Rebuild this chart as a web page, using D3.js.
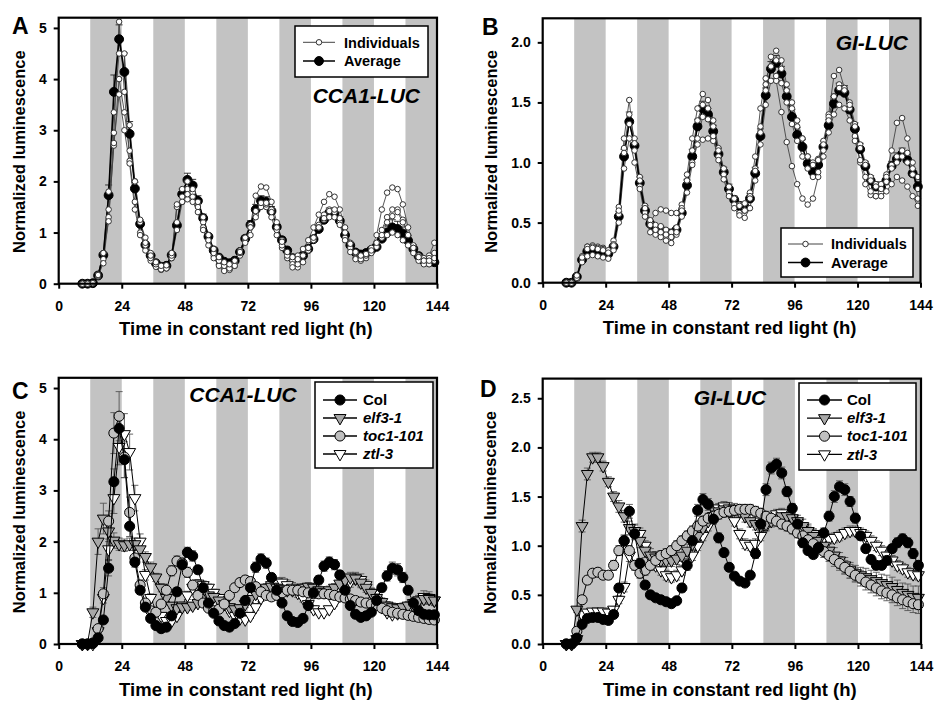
<!DOCTYPE html>
<html>
<head>
<meta charset="utf-8">
<script src="https://cdn.jsdelivr.net/npm/d3@7"></script>
<style>
body { margin: 0; background: #fff; }
svg text { font-family: "Liberation Sans", Arial, Helvetica, sans-serif; }
</style>
</head>
<body>
<svg id="fig" width="935" height="703"></svg>
<script>
// sampling times (h in constant red light)
const hours = [9, 11, 13, 15, 17, 19, 21, 23, 25, 27,
    29, 31, 33, 35, 37, 39, 41, 43, 45, 47,
    49, 51, 53, 55, 57, 59, 61, 63, 65, 67,
    69, 71, 73, 75, 77, 79, 81, 83, 85, 87,
    89, 91, 93, 95, 97, 99, 101, 103, 105, 107,
    109, 111, 113, 115, 117, 119, 121, 123, 125, 127,
    129, 131, 133, 135, 137, 139, 141, 143]
const xTicks = [0, 24, 48, 72, 96, 120, 144]
const darkStarts = [12, 36, 60, 84, 108, 132]   // subjective night bands (12 h wide)

// ---- Panel A : CCA1-LUC, individuals + average
const aAverage = [0, 0, 0.01, 0.16, 0.56, 1.73, 3.75, 4.78, 4.14, 2.93,
    1.86, 1.17, 0.76, 0.55, 0.40, 0.33, 0.35, 0.56, 1.14, 1.75,
    2.03, 1.92, 1.62, 1.28, 0.92, 0.65, 0.51, 0.43, 0.40, 0.45,
    0.62, 0.88, 1.15, 1.45, 1.62, 1.60, 1.42, 1.11, 0.85, 0.65,
    0.50, 0.50, 0.55, 0.68, 0.87, 1.07, 1.25, 1.39, 1.37, 1.23,
    0.95, 0.75, 0.61, 0.57, 0.60, 0.66, 0.72, 0.88, 1.00, 1.10,
    1.07, 0.98, 0.84, 0.68, 0.54, 0.45, 0.42, 0.42]
const aAverageErr = [0, 0, 0, 0.02, 0.05, 0.2, 0.33, 0.28, 0.37, 0.24,
    0.12, 0.08, 0.05, 0.04, 0.03, 0.03, 0.03, 0.05, 0.08, 0.1,
    0.13, 0.12, 0.1, 0.08, 0.06, 0.05, 0.04, 0.04, 0.04, 0.04,
    0.05, 0.06, 0.08, 0.1, 0.1, 0.1, 0.09, 0.07, 0.06, 0.05,
    0.05, 0.05, 0.05, 0.06, 0.07, 0.08, 0.09, 0.09, 0.09, 0.08,
    0.07, 0.06, 0.05, 0.05, 0.05, 0.06, 0.08, 0.1, 0.13, 0.15,
    0.15, 0.13, 0.1, 0.08, 0.06, 0.05, 0.05, 0.05]
const aInd1 = [0, 0, 0.01, 0.14, 0.48, 1.45, 2.95, 5.12, 3.75, 2.4,
    1.6, 1.0, 0.65, 0.45, 0.33, 0.27, 0.3, 0.5, 1.05, 1.6,
    1.85, 1.78, 1.55, 1.2, 0.85, 0.55, 0.38, 0.3, 0.28, 0.35,
    0.55, 0.85, 1.15, 1.72, 1.9, 1.88, 1.6, 1.2, 0.85, 0.6,
    0.45, 0.55, 0.68, 0.85, 1.1, 1.35, 1.6, 1.75, 1.7, 1.45,
    1.1, 0.8, 0.6, 0.5, 0.55, 0.7, 0.95, 1.45, 1.78, 1.88,
    1.85, 1.55, 1.1, 0.75, 0.55, 0.5, 0.55, 0.8]
const aInd2 = [0, 0, 0.01, 0.16, 0.4, 1.3, 2.7, 4.0, 3.35, 2.6,
    2.0, 1.2, 0.9, 0.6, 0.4, 0.3, 0.32, 0.5, 1.5, 1.7,
    1.65, 1.7, 1.5, 1.1, 0.75, 0.5, 0.35, 0.25, 0.27, 0.4,
    0.65, 0.9, 1.1, 1.35, 1.55, 1.5, 1.3, 0.95, 0.7, 0.5,
    0.38, 0.32, 0.42, 0.65, 0.9, 1.15, 1.35, 1.45, 1.4, 1.2,
    0.9, 0.7, 0.5, 0.45, 0.5, 0.62, 0.8, 1.05, 1.3, 1.45,
    1.45, 1.25, 0.95, 0.7, 0.52, 0.45, 0.5, 0.6]
const aInd3 = [0, 0, 0.01, 0.18, 0.6, 1.22, 2.75, 3.7, 3.0, 2.35,
    1.45, 0.95, 0.75, 0.5, 0.38, 0.28, 0.3, 0.55, 1.55, 1.6,
    1.75, 1.6, 1.4, 1.05, 0.85, 0.6, 0.45, 0.35, 0.3, 0.35,
    0.6, 0.8, 0.95, 1.3, 1.5, 1.55, 1.45, 1.05, 0.75, 0.55,
    0.32, 0.38, 0.55, 0.7, 0.85, 1.1, 1.25, 1.3, 1.3, 1.15,
    0.85, 0.62, 0.48, 0.48, 0.55, 0.6, 0.72, 0.9, 0.95, 1.0,
    0.95, 0.85, 0.75, 0.6, 0.45, 0.38, 0.38, 0.45]
const aInd4 = [0, 0, 0.01, 0.17, 0.6, 1.8, 3.35, 4.5, 4.5, 3.1,
    2.0, 1.25, 0.8, 0.55, 0.42, 0.35, 0.36, 0.6, 1.2, 1.85,
    2.0, 1.85, 1.6, 1.3, 0.95, 0.68, 0.52, 0.42, 0.38, 0.45,
    0.62, 0.9, 1.1, 1.42, 1.58, 1.58, 1.4, 1.1, 0.82, 0.62,
    0.52, 0.48, 0.55, 0.7, 0.9, 1.1, 1.28, 1.42, 1.45, 1.28,
    1.0, 0.78, 0.62, 0.55, 0.58, 0.65, 0.8, 0.95, 1.2, 1.32,
    1.4, 1.2, 0.95, 0.7, 0.52, 0.45, 0.45, 0.5]

// ---- Panel B : GI-LUC, individuals + average
const bAverage = [0, 0, 0.05, 0.19, 0.26, 0.27, 0.27, 0.25, 0.24, 0.30,
    0.55, 1.05, 1.34, 1.14, 0.83, 0.60, 0.49, 0.45, 0.44, 0.42,
    0.41, 0.44, 0.58, 0.81, 1.05, 1.30, 1.45, 1.40, 1.26, 1.07,
    0.92, 0.78, 0.69, 0.64, 0.63, 0.70, 0.91, 1.22, 1.56, 1.78,
    1.83, 1.74, 1.55, 1.38, 1.23, 1.13, 0.99, 0.92, 0.98, 1.13,
    1.31, 1.49, 1.60, 1.58, 1.44, 1.28, 1.11, 0.97, 0.85, 0.80,
    0.79, 0.85, 0.97, 1.03, 1.07, 1.02, 0.91, 0.80]
const bAverageErr = [0, 0, 0.01, 0.02, 0.02, 0.02, 0.02, 0.02, 0.02, 0.02,
    0.04, 0.06, 0.08, 0.06, 0.05, 0.04, 0.03, 0.03, 0.03, 0.03,
    0.03, 0.03, 0.04, 0.05, 0.06, 0.06, 0.06, 0.05, 0.05, 0.05,
    0.04, 0.04, 0.03, 0.03, 0.03, 0.04, 0.05, 0.06, 0.06, 0.06,
    0.06, 0.06, 0.06, 0.06, 0.06, 0.06, 0.06, 0.05, 0.05, 0.05,
    0.05, 0.06, 0.06, 0.06, 0.05, 0.05, 0.05, 0.04, 0.04, 0.04,
    0.04, 0.04, 0.04, 0.05, 0.05, 0.05, 0.04, 0.04]
const bInd1 = [0, 0, 0.04, 0.22, 0.3, 0.31, 0.3, 0.29, 0.26, 0.35,
    0.63, 1.2, 1.52, 1.1, 0.8, 0.58, 0.5, 0.58, 0.61, 0.6,
    0.58, 0.58, 0.65, 0.85, 1.0, 1.15, 1.19, 1.2, 1.18, 1.05,
    0.9, 0.75, 0.65, 0.58, 0.6, 0.75, 1.05, 1.45, 1.7, 1.8,
    1.68, 1.42, 1.17, 0.97, 0.82, 0.7, 0.65, 0.7, 0.88, 1.1,
    1.4, 1.72, 1.77, 1.62, 1.45, 1.22, 1.0, 0.82, 0.73, 0.72,
    0.75, 0.9, 1.1, 1.33, 1.37, 1.2, 0.95, 0.7]
const bInd2 = [0, 0, 0.05, 0.2, 0.3, 0.3, 0.29, 0.28, 0.27, 0.32,
    0.57, 1.12, 1.4, 1.2, 0.88, 0.64, 0.52, 0.48, 0.47, 0.44,
    0.42, 0.46, 0.62, 0.9, 1.2, 1.45, 1.57, 1.52, 1.35, 1.12,
    0.95, 0.8, 0.7, 0.65, 0.66, 0.72, 0.95, 1.3, 1.65, 1.88,
    1.93, 1.85, 1.65, 1.5, 1.35, 1.2, 1.05, 1.0, 1.03, 1.18,
    1.38, 1.55, 1.65, 1.62, 1.5, 1.32, 1.15, 1.0, 0.88, 0.82,
    0.82, 0.88, 0.98, 1.05, 1.1, 1.08, 1.0, 0.88]
const bInd3 = [0, 0, 0.04, 0.17, 0.22, 0.23, 0.22, 0.21, 0.2, 0.27,
    0.5, 0.95, 1.2, 1.0, 0.78, 0.55, 0.42, 0.4, 0.38, 0.35,
    0.33, 0.4, 0.55, 0.75, 0.98, 1.2, 1.38, 1.36, 1.22, 1.02,
    0.86, 0.72, 0.62, 0.56, 0.54, 0.62, 0.85, 1.15, 1.48, 1.68,
    1.72, 1.66, 1.5, 1.32, 1.18, 1.05, 0.95, 0.88, 0.92, 1.05,
    1.25, 1.4, 1.48, 1.45, 1.35, 1.18, 1.02, 0.88, 0.76, 0.72,
    0.72, 0.76, 0.82, 0.88, 0.85, 0.8, 0.72, 0.64]
const bInd4 = [0, 0, 0.06, 0.21, 0.28, 0.29, 0.28, 0.27, 0.25, 0.31,
    0.6, 1.08, 1.32, 1.16, 0.85, 0.62, 0.48, 0.44, 0.42, 0.4,
    0.38, 0.42, 0.6, 0.85, 1.1, 1.35, 1.48, 1.45, 1.3, 1.1,
    0.95, 0.8, 0.7, 0.64, 0.6, 0.7, 0.93, 1.25, 1.6, 1.8,
    1.85, 1.78, 1.6, 1.45, 1.3, 1.2, 1.05, 0.98, 1.02, 1.15,
    1.35, 1.55, 1.62, 1.6, 1.48, 1.3, 1.12, 0.98, 0.85, 0.8,
    0.78, 0.84, 0.95, 1.0, 1.05, 1.0, 0.9, 0.78]

// ---- Panel C : CCA1-LUC in mutants
const cCol = [0, 0, 0.01, 0.12, 0.47, 1.48, 3.17, 4.21, 3.6, 2.3,
    1.6, 1.05, 0.72, 0.5, 0.36, 0.3, 0.33, 0.55, 1.02, 1.55,
    1.79, 1.72, 1.45, 1.1, 0.8, 0.6, 0.45, 0.36, 0.33, 0.4,
    0.6, 0.85, 1.1, 1.5, 1.66, 1.58, 1.3, 1.05, 0.8, 0.55,
    0.44, 0.42, 0.5, 0.75, 1.0, 1.25, 1.52, 1.6, 1.55, 1.35,
    1.05, 0.75, 0.58, 0.52, 0.55, 0.62, 0.85, 1.1, 1.33, 1.48,
    1.45, 1.3, 1.05, 0.8, 0.65, 0.58, 0.57, 0.57]
const cColErr = [0, 0, 0, 0.02, 0.05, 0.15, 0.25, 0.3, 0.35, 0.2,
    0.1, 0.07, 0.05, 0.04, 0.03, 0.03, 0.03, 0.05, 0.08, 0.1,
    0.1, 0.1, 0.08, 0.06, 0.05, 0.04, 0.03, 0.03, 0.03, 0.04,
    0.05, 0.06, 0.08, 0.1, 0.1, 0.1, 0.08, 0.06, 0.05, 0.04,
    0.04, 0.04, 0.04, 0.05, 0.06, 0.08, 0.1, 0.1, 0.1, 0.08,
    0.06, 0.05, 0.04, 0.04, 0.04, 0.05, 0.06, 0.08, 0.1, 0.12,
    0.12, 0.1, 0.08, 0.06, 0.05, 0.05, 0.05, 0.05]
const cElf3 = [0, 0.02, 0.62, 2.0, 2.45, 2.2, 2.02, 1.95, 1.93, 1.95,
    1.95, 1.85, 1.7, 1.5, 1.3, 1.1, 0.9, 0.75, 0.7, 0.72,
    0.72, 0.75, 0.8, 0.9, 0.95, 0.92, 0.85, 0.78, 0.72, 0.68,
    0.7, 0.78, 0.88, 0.98, 1.05, 1.1, 1.12, 1.1, 1.08, 1.05,
    1.05, 1.07, 1.1, 1.12, 1.1, 1.05, 1.02, 1.05, 1.1, 1.18,
    1.25, 1.3, 1.28, 1.2, 1.1, 1.0, 0.9, 0.82, 0.75, 0.72,
    0.7, 0.72, 0.75, 0.8, 0.85, 0.88, 0.88, 0.85]
const cElf3Err = [0, 0, 0.1, 0.25, 0.3, 0.2, 0.15, 0.12, 0.12, 0.12,
    0.12, 0.12, 0.1, 0.1, 0.08, 0.08, 0.07, 0.06, 0.06, 0.06,
    0.06, 0.06, 0.06, 0.06, 0.07, 0.07, 0.07, 0.07, 0.07, 0.07,
    0.07, 0.07, 0.07, 0.08, 0.08, 0.08, 0.08, 0.08, 0.08, 0.08,
    0.08, 0.08, 0.08, 0.08, 0.08, 0.08, 0.08, 0.08, 0.08, 0.09,
    0.09, 0.1, 0.1, 0.1, 0.09, 0.09, 0.08, 0.08, 0.08, 0.08,
    0.08, 0.08, 0.08, 0.08, 0.09, 0.1, 0.1, 0.1]
const cToc1 = [0, 0, 0.02, 0.3, 0.98, 2.4, 4.12, 4.45, 3.65, 2.57,
    1.68, 1.15, 0.8, 0.65, 0.62, 0.78, 1.05, 1.43, 1.62, 1.58,
    1.4, 1.15, 0.95, 0.8, 0.7, 0.65, 0.68, 0.78, 0.95, 1.1,
    1.2, 1.25, 1.22, 1.12, 1.02, 0.95, 0.92, 0.95, 1.0, 1.05,
    1.05, 1.05, 1.02, 1.0, 0.98, 0.98, 0.98, 0.97, 0.95, 0.92,
    0.9, 0.88, 0.85, 0.82, 0.8, 0.78, 0.75, 0.7, 0.65, 0.62,
    0.6, 0.58, 0.56, 0.54, 0.52, 0.5, 0.48, 0.47]
const cToc1Err = [0, 0, 0, 0.05, 0.12, 0.2, 0.4, 0.48, 0.4, 0.3,
    0.15, 0.1, 0.08, 0.06, 0.06, 0.06, 0.08, 0.1, 0.1, 0.1,
    0.1, 0.08, 0.07, 0.06, 0.06, 0.06, 0.06, 0.07, 0.07, 0.08,
    0.08, 0.08, 0.08, 0.07, 0.07, 0.06, 0.06, 0.06, 0.06, 0.06,
    0.06, 0.06, 0.06, 0.06, 0.06, 0.06, 0.06, 0.06, 0.06, 0.06,
    0.06, 0.06, 0.06, 0.06, 0.06, 0.05, 0.05, 0.05, 0.05, 0.05,
    0.05, 0.05, 0.05, 0.05, 0.05, 0.05, 0.05, 0.05]
const cZtl3 = [0, 0, 0, 0.25, 0.9, 1.85, 2.85, 3.85, 4.1, 3.75,
    2.85, 2.0, 1.35, 0.9, 0.65, 0.55, 0.45, 0.45, 0.55, 0.75,
    0.95, 1.1, 1.18, 1.15, 1.1, 1.0, 0.9, 0.78, 0.65, 0.55,
    0.5, 0.48, 0.55, 0.72, 0.9, 1.05, 1.15, 1.2, 1.2, 1.15,
    1.1, 1.0, 0.9, 0.78, 0.68, 0.62, 0.62, 0.68, 0.8, 0.95,
    1.1, 1.22, 1.28, 1.25, 1.15, 1.0, 0.85, 0.72, 0.62, 0.58,
    0.6, 0.62, 0.68, 0.75, 0.85, 0.92, 0.9, 0.85]
const cZtl3Err = [0, 0, 0, 0.05, 0.1, 0.2, 0.3, 0.35, 0.4, 0.35,
    0.25, 0.15, 0.1, 0.08, 0.06, 0.05, 0.05, 0.05, 0.06, 0.07,
    0.08, 0.08, 0.08, 0.08, 0.07, 0.07, 0.06, 0.06, 0.05, 0.05,
    0.05, 0.05, 0.05, 0.06, 0.07, 0.08, 0.09, 0.1, 0.1, 0.1,
    0.1, 0.09, 0.08, 0.07, 0.06, 0.05, 0.05, 0.05, 0.06, 0.08,
    0.1, 0.11, 0.12, 0.12, 0.1, 0.09, 0.07, 0.06, 0.05, 0.05,
    0.05, 0.06, 0.07, 0.08, 0.1, 0.12, 0.12, 0.1]

// ---- Panel D : GI-LUC in mutants
const dCol = [0, 0, 0.06, 0.2, 0.26, 0.27, 0.27, 0.25, 0.24, 0.3,
    0.57, 1.05, 1.35, 1.12, 0.82, 0.6, 0.5, 0.47, 0.45, 0.43,
    0.41, 0.44, 0.57, 0.8, 1.05, 1.36, 1.47, 1.42, 1.27, 1.08,
    0.93, 0.78, 0.69, 0.64, 0.62, 0.7, 0.92, 1.22, 1.57, 1.79,
    1.83, 1.74, 1.55, 1.38, 1.22, 1.03, 0.95, 0.91, 0.98, 1.13,
    1.3, 1.5, 1.6, 1.57, 1.45, 1.28, 1.1, 0.97, 0.86, 0.8,
    0.8, 0.85, 0.97, 1.03, 1.07, 1.03, 0.92, 0.8]
const dColErr = [0, 0, 0.01, 0.02, 0.02, 0.02, 0.02, 0.02, 0.02, 0.03,
    0.04, 0.06, 0.07, 0.06, 0.05, 0.04, 0.03, 0.03, 0.03, 0.03,
    0.03, 0.03, 0.04, 0.05, 0.06, 0.06, 0.06, 0.06, 0.05, 0.05,
    0.04, 0.04, 0.03, 0.03, 0.03, 0.04, 0.05, 0.06, 0.06, 0.06,
    0.06, 0.06, 0.05, 0.05, 0.05, 0.05, 0.04, 0.04, 0.04, 0.05,
    0.05, 0.06, 0.06, 0.06, 0.05, 0.05, 0.04, 0.04, 0.04, 0.04,
    0.04, 0.04, 0.04, 0.05, 0.05, 0.05, 0.05, 0.05]
const dElf3 = [0, 0, 0.35, 1.2, 1.73, 1.9, 1.9, 1.81, 1.65, 1.5,
    1.4, 1.3, 1.18, 1.15, 1.05, 0.95, 0.9, 0.88, 0.85, 0.85,
    0.85, 0.87, 0.9, 0.95, 1.02, 1.1, 1.18, 1.25, 1.3, 1.35,
    1.37, 1.38, 1.37, 1.35, 1.3, 1.25, 1.22, 1.2, 1.22, 1.25,
    1.28, 1.3, 1.3, 1.28, 1.25, 1.2, 1.15, 1.1, 1.05, 1.0,
    0.95, 0.9, 0.85, 0.8, 0.75, 0.72, 0.7, 0.68, 0.66, 0.64,
    0.62, 0.6, 0.58, 0.55, 0.52, 0.5, 0.48, 0.47]
const dElf3Err = [0, 0, 0.03, 0.06, 0.06, 0.05, 0.05, 0.05, 0.05, 0.05,
    0.06, 0.06, 0.07, 0.07, 0.07, 0.07, 0.07, 0.06, 0.06, 0.06,
    0.06, 0.06, 0.06, 0.06, 0.06, 0.06, 0.06, 0.06, 0.06, 0.06,
    0.06, 0.06, 0.06, 0.06, 0.06, 0.06, 0.06, 0.06, 0.06, 0.06,
    0.06, 0.06, 0.06, 0.06, 0.06, 0.07, 0.07, 0.07, 0.07, 0.07,
    0.07, 0.08, 0.08, 0.08, 0.08, 0.08, 0.08, 0.09, 0.09, 0.09,
    0.09, 0.1, 0.1, 0.1, 0.1, 0.11, 0.11, 0.12]
const dToc1 = [0, 0, 0.13, 0.45, 0.65, 0.72, 0.73, 0.7, 0.7, 0.8,
    0.95, 1.05, 0.95, 0.8, 0.72, 0.75, 0.8, 0.85, 0.9, 0.92,
    0.95, 1.0, 1.05, 1.1, 1.15, 1.2, 1.25, 1.28, 1.3, 1.32,
    1.34, 1.35, 1.36, 1.37, 1.37, 1.37, 1.35, 1.33, 1.3, 1.28,
    1.25, 1.22, 1.2, 1.17, 1.13, 1.1, 1.06, 1.02, 0.98, 0.94,
    0.9, 0.86, 0.82, 0.78, 0.74, 0.7, 0.67, 0.63, 0.6, 0.57,
    0.54, 0.52, 0.5, 0.47, 0.45, 0.43, 0.41, 0.4]
const dToc1Err = [0, 0, 0.02, 0.04, 0.04, 0.04, 0.04, 0.04, 0.04, 0.05,
    0.05, 0.05, 0.05, 0.05, 0.05, 0.05, 0.05, 0.05, 0.05, 0.05,
    0.05, 0.05, 0.05, 0.05, 0.05, 0.05, 0.05, 0.05, 0.05, 0.05,
    0.05, 0.05, 0.05, 0.05, 0.05, 0.05, 0.05, 0.05, 0.05, 0.05,
    0.05, 0.05, 0.05, 0.05, 0.05, 0.05, 0.06, 0.06, 0.06, 0.06,
    0.06, 0.07, 0.07, 0.07, 0.07, 0.07, 0.08, 0.08, 0.08, 0.08,
    0.08, 0.08, 0.08, 0.08, 0.09, 0.09, 0.09, 0.09]
const dZtl3 = [0, 0, 0.05, 0.3, 0.32, 0.33, 0.33, 0.33, 0.32, 0.35,
    0.45, 0.58, 0.9, 1.15, 1.12, 1.0, 0.88, 0.8, 0.75, 0.7,
    0.68, 0.7, 0.75, 0.82, 0.9, 1.0, 1.1, 1.2, 1.3, 1.38,
    1.4, 1.35, 1.25, 1.12, 1.02, 1.0, 1.02, 1.1, 1.2, 1.28,
    1.32, 1.33, 1.3, 1.27, 1.23, 1.18, 1.15, 1.12, 1.1, 1.08,
    1.07, 1.08, 1.1, 1.13, 1.15, 1.15, 1.13, 1.1, 1.05, 1.0,
    0.95, 0.9, 0.85, 0.8, 0.77, 0.73, 0.71, 0.7]
const dZtl3Err = [0, 0, 0.02, 0.03, 0.03, 0.03, 0.03, 0.03, 0.03, 0.03,
    0.04, 0.05, 0.06, 0.06, 0.06, 0.05, 0.05, 0.05, 0.05, 0.05,
    0.05, 0.05, 0.05, 0.05, 0.05, 0.05, 0.05, 0.05, 0.05, 0.05,
    0.05, 0.05, 0.05, 0.05, 0.05, 0.05, 0.05, 0.05, 0.05, 0.05,
    0.05, 0.05, 0.05, 0.05, 0.05, 0.05, 0.05, 0.05, 0.05, 0.05,
    0.05, 0.05, 0.05, 0.05, 0.05, 0.05, 0.05, 0.05, 0.05, 0.05,
    0.05, 0.05, 0.05, 0.05, 0.05, 0.05, 0.05, 0.05]

const svg = d3.select('#fig')
const FONT = '"Liberation Sans", Arial, Helvetica, sans-serif'

// panel geometry
const panels = {
    A: { left: 58.7, right: 437, top: 17.7, bottom: 283.7, yMax: 5.2, yTicks: [0, 1, 2, 3, 4, 5], fmt: d3.format('d'), ylabX: 25, letterX: 12, letterY: 34 },
    B: { left: 542.7, right: 920.5, top: 18.3, bottom: 282.7, yMax: 2.2, yTicks: [0, 0.5, 1, 1.5, 2], fmt: d3.format('.1f'), ylabX: 497, letterX: 482, letterY: 35 },
    C: { left: 58.7, right: 437, top: 377.8, bottom: 644, yMax: 5.2, yTicks: [0, 1, 2, 3, 4, 5], fmt: d3.format('d'), ylabX: 25, letterX: 12, letterY: 399 },
    D: { left: 542.7, right: 921, top: 378.6, bottom: 644, yMax: 2.7, yTicks: [0, 0.5, 1, 1.5, 2, 2.5], fmt: d3.format('.1f'), ylabX: 496, letterX: 480, letterY: 397 }
}

function setupPanel(name) {
    const p = panels[name]
    const g = svg.append('g')
    const x = d3.scaleLinear().domain([0, 144]).range([p.left, p.right])
    const y = d3.scaleLinear().domain([0, p.yMax]).range([p.bottom, p.top])

    // dark bands
    g.append('g').selectAll('rect')
        .data(darkStarts)
        .join('rect')
        .attr('x', d => x(d))
        .attr('width', d => x(d + 12) - x(d))
        .attr('y', p.top)
        .attr('height', p.bottom - p.top)
        .attr('fill', '#c3c3c3')

    // axes
    const xAxis = d3.axisBottom(x).tickValues(xTicks).tickSize(5).tickPadding(12)
    const yAxis = d3.axisLeft(y).tickValues(p.yTicks).tickSize(5).tickPadding(7).tickFormat(p.fmt)
    const gx = g.append('g').attr('transform', 'translate(0,' + p.bottom + ')').call(xAxis)
    const gy = g.append('g').attr('transform', 'translate(' + p.left + ',0)').call(yAxis)
    for (const a of [gx, gy]) {
        a.select('.domain').remove()
        a.selectAll('line').attr('stroke', '#000').attr('stroke-width', 2)
        a.selectAll('text').attr('fill', '#000').style('font-size', '14px').style('font-weight', 'bold').style('font-family', FONT)
    }

    // axis titles
    g.append('text')
        .attr('x', (p.left + p.right) / 2 - 2)
        .attr('y', p.bottom + 51.5)
        .attr('text-anchor', 'middle')
        .style('font-size', '18.5px')
        .style('font-weight', 'bold')
        .text('Time in constant red light (h)')
    g.append('text')
        .attr('transform', 'translate(' + p.ylabX + ',' + ((p.top + p.bottom) / 2 + 1) + ') rotate(-90)')
        .attr('text-anchor', 'middle')
        .style('font-size', '16.5px')
        .style('font-weight', 'bold')
        .text('Normalized luminescence')

    // panel letter
    g.append('text')
        .attr('x', p.letterX)
        .attr('y', p.letterY)
        .style('font-size', '23px')
        .style('font-weight', 'bold')
        .text(name)

    const data = g.append('g')
    return { g, data, x, y, p }
}

function drawErr(layer, x, y, vals, errs, both, color) {
    const pts = vals.map((v, i) => ({ t: hours[i], v: v, e: errs[i] })).filter(d => d.e > 0)
    const eg = layer.append('g').attr('stroke', color).attr('stroke-width', 0.9)
    eg.selectAll('line.bar').data(pts).join('line')
        .attr('x1', d => x(d.t)).attr('x2', d => x(d.t))
        .attr('y1', d => y(both ? d.v - d.e : d.v)).attr('y2', d => y(d.v + d.e))
    eg.selectAll('line.cap').data(pts).join('line')
        .attr('x1', d => x(d.t) - 3.5).attr('x2', d => x(d.t) + 3.5)
        .attr('y1', d => y(d.v + d.e)).attr('y2', d => y(d.v + d.e))
    if (both) {
        eg.selectAll('line.cap2').data(pts).join('line')
            .attr('x1', d => x(d.t) - 3.5).attr('x2', d => x(d.t) + 3.5)
            .attr('y1', d => y(d.v - d.e)).attr('y2', d => y(d.v - d.e))
    }
}

function drawLine(layer, x, y, vals, color, width) {
    const line = d3.line().x((d, i) => x(hours[i])).y(d => y(d))
    layer.append('path')
        .attr('d', line(vals))
        .attr('fill', 'none')
        .attr('stroke', color)
        .attr('stroke-width', width)
}

function markerPath(shape, size) {
    if (shape === 'tri') return d3.symbol().type(d3.symbolTriangle).size(size)()
    return d3.symbol().type(d3.symbolCircle).size(size)()
}

function drawMarkers(layer, x, y, vals, style) {
    layer.append('g').selectAll('path')
        .data(vals)
        .join('path')
        .attr('d', markerPath(style.shape, style.size))
        .attr('transform', (d, i) => 'translate(' + x(hours[i]) + ',' + y(d) + ')' + (style.shape === 'tri' ? ' rotate(180)' : ''))
        .attr('fill', style.fill)
        .attr('stroke', style.stroke)
        .attr('stroke-width', style.sw)
}

function drawFrame(pan) {
    const p = pan.p
    pan.g.append('rect')
        .attr('x', p.left).attr('y', p.top)
        .attr('width', p.right - p.left).attr('height', p.bottom - p.top)
        .attr('fill', 'none').attr('stroke', '#000').attr('stroke-width', 2.2)
}

function drawLegend(g, box, rows) {
    g.append('rect')
        .attr('x', box.x).attr('y', box.y).attr('width', box.w).attr('height', box.h)
        .attr('fill', '#fff').attr('stroke', '#000').attr('stroke-width', 1.5)
    rows.forEach((r, i) => {
        const cy = box.row0 + i * box.step
        g.append('line')
            .attr('x1', box.lx1).attr('x2', box.lx2).attr('y1', cy).attr('y2', cy)
            .attr('stroke', r.line).attr('stroke-width', r.lw)
        g.append('path')
            .attr('d', markerPath(r.style.shape, r.style.size))
            .attr('transform', 'translate(' + ((box.lx1 + box.lx2) / 2) + ',' + cy + ')' + (r.style.shape === 'tri' ? ' rotate(180)' : ''))
            .attr('fill', r.style.fill).attr('stroke', r.style.stroke).attr('stroke-width', r.style.sw)
        g.append('text')
            .attr('x', box.tx).attr('y', cy + 5.2)
            .style('font-size', box.fs)
            .style('font-weight', 'bold')
            .style('font-style', r.italic ? 'italic' : 'normal')
            .text(r.label)
    })
}

function geneLabel(g, text, xPos, yPos, anchor) {
    g.append('text')
        .attr('x', xPos).attr('y', yPos)
        .attr('text-anchor', anchor)
        .style('font-size', '21px').style('font-weight', 'bold').style('font-style', 'italic')
        .text(text)
}

const indStyle = { shape: 'circle', size: 24, fill: '#fff', stroke: '#333', sw: 1 }
const avgStyle = { shape: 'circle', size: 62, fill: '#000', stroke: '#000', sw: 1 }
const colStyle = { shape: 'circle', size: 80, fill: '#000', stroke: '#000', sw: 1 }
const elfStyle = { shape: 'tri', size: 62, fill: '#a8a8a8', stroke: '#000', sw: 1 }
const tocStyle = { shape: 'circle', size: 80, fill: '#c0c0c0', stroke: '#000', sw: 1 }
const ztlStyle = { shape: 'tri', size: 62, fill: '#fff', stroke: '#000', sw: 1 }

// ---------- Panel A
const pa = setupPanel('A')
drawErr(pa.data, pa.x, pa.y, aAverage, aAverageErr, false, '#222')
for (const s of [aInd1, aInd2, aInd3, aInd4]) drawLine(pa.data, pa.x, pa.y, s, '#444', 0.9)
drawLine(pa.data, pa.x, pa.y, aAverage, '#000', 1.6)
drawMarkers(pa.data, pa.x, pa.y, aAverage, avgStyle)
for (const s of [aInd1, aInd2, aInd3, aInd4]) drawMarkers(pa.data, pa.x, pa.y, s, indStyle)
drawFrame(pa)
drawLegend(pa.g, { x: 295, y: 26, w: 133, h: 51, row0: 42.3, step: 18.7, lx1: 303, lx2: 335, tx: 344, fs: '14.5px' }, [
    { label: 'Individuals', style: indStyle, line: '#444', lw: 1 },
    { label: 'Average', style: avgStyle, line: '#000', lw: 1.5 }
])
geneLabel(pa.g, 'CCA1-LUC', 420, 103, 'end')

// ---------- Panel B
const pb = setupPanel('B')
drawErr(pb.data, pb.x, pb.y, bAverage, bAverageErr, false, '#222')
for (const s of [bInd1, bInd2, bInd3, bInd4]) drawLine(pb.data, pb.x, pb.y, s, '#444', 0.9)
drawLine(pb.data, pb.x, pb.y, bAverage, '#000', 1.6)
drawMarkers(pb.data, pb.x, pb.y, bAverage, avgStyle)
for (const s of [bInd1, bInd2, bInd3, bInd4]) drawMarkers(pb.data, pb.x, pb.y, s, indStyle)
drawFrame(pb)
drawLegend(pb.g, { x: 781, y: 228, w: 132, h: 49, row0: 244, step: 18.5, lx1: 788, lx2: 823, tx: 831, fs: '14.5px' }, [
    { label: 'Individuals', style: indStyle, line: '#444', lw: 1 },
    { label: 'Average', style: avgStyle, line: '#000', lw: 1.5 }
])
geneLabel(pb.g, 'GI-LUC', 908, 50, 'end')

// ---------- Panels C and D (mutants)
function mutantPanel(name, col, colErr, elf, elfErr, toc, tocErr, ztl, ztlErr, box, gene) {
    const pan = setupPanel(name)
    const series = [
        { v: ztl, e: ztlErr, s: ztlStyle },
        { v: elf, e: elfErr, s: elfStyle },
        { v: toc, e: tocErr, s: tocStyle },
        { v: col, e: colErr, s: colStyle }
    ]
    for (const sr of series) drawErr(pan.data, pan.x, pan.y, sr.v, sr.e, true, '#555')
    for (const sr of series) {
        drawLine(pan.data, pan.x, pan.y, sr.v, '#000', 1)
        drawMarkers(pan.data, pan.x, pan.y, sr.v, sr.s)
    }
    drawFrame(pan)
    drawLegend(pan.g, box, [
        { label: 'Col', style: colStyle, line: '#000', lw: 1.3, italic: false },
        { label: 'elf3-1', style: elfStyle, line: '#000', lw: 1.3, italic: true },
        { label: 'toc1-101', style: tocStyle, line: '#000', lw: 1.3, italic: true },
        { label: 'ztl-3', style: ztlStyle, line: '#000', lw: 1.3, italic: true }
    ])
    geneLabel(pan.g, gene.text, gene.x, gene.y, 'middle')
}

mutantPanel('C', cCol, cColErr, cElf3, cElf3Err, cToc1, cToc1Err, cZtl3, cZtl3Err,
    { x: 315, y: 382, w: 118, h: 86, row0: 400, step: 18, lx1: 323, lx2: 357, tx: 363, fs: '15px' },
    { text: 'CCA1-LUC', x: 243, y: 402 })
mutantPanel('D', dCol, dColErr, dElf3, dElf3Err, dToc1, dToc1Err, dZtl3, dZtl3Err,
    { x: 799, y: 383, w: 117, h: 87, row0: 400, step: 18.1, lx1: 807, lx2: 842, tx: 847, fs: '15px' },
    { text: 'GI-LUC', x: 730, y: 405 })
</script>
</body>
</html>
